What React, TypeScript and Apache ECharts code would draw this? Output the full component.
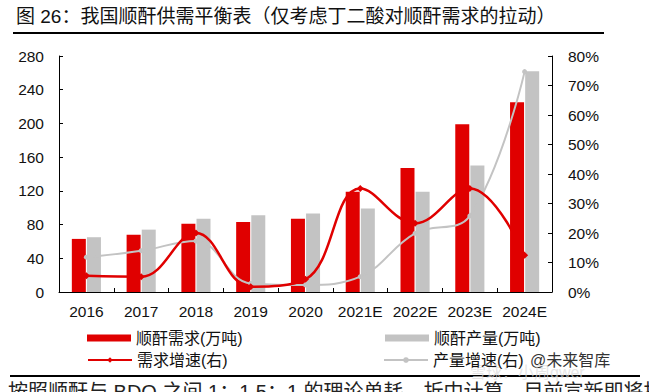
import React, { useEffect, useRef } from "react";
import * as echarts from "echarts";

const categories = ["2016", "2017", "2018", "2019", "2020", "2021E", "2022E", "2023E", "2024E"];
const demand = [63, 68, 81, 83, 87, 119, 147, 199, 225];
const supply = [65, 74, 87, 91, 93, 99, 119, 150, 262];
const demandGrowth = [5.5, 5.2, 20, 1.8, 4.3, 35.1, 23.3, 35.1, 12.5];
const supplyGrowth = [11.8, 14, 17.3, 2.9, 2.4, 5.2, 19.9, 25.8, 74.7];

const titleText = "图 26：我国顺酐供需平衡表（仅考虑丁二酸对顺酐需求的拉动）";
const names = ["顺酐需求(万吨)", "顺酐产量(万吨)", "需求增速(右)", "产量增速(右)"];

const RED = "#E00000";
const GRAY = "#C3C3C3";
const FONT = "'Liberation Sans', Arial, 'Noto Sans CJK SC', sans-serif";

export default function App() {
  const ref = useRef<HTMLDivElement>(null);
  useEffect(() => {
    if (!ref.current) return;
    const chart = echarts.init(ref.current, undefined, { renderer: "svg" });
    const axisLabel = { color: "#111", fontSize: 15.5, fontFamily: FONT };
    const legendBase = {
      padding: 0,
      itemHeight: 7,
      itemWidth: 44,
      textStyle: { color: "#111", fontSize: 16, fontFamily: FONT },
    };
    chart.setOption({
      animation: false,
      textStyle: { fontFamily: FONT },
      grid: { left: 59, right: 97, top: 56, bottom: 100, containLabel: false },
      legend: [
        { ...legendBase, left: 87, top: 330, data: [{ name: names[0], icon: "rect" }] },
        { ...legendBase, left: 385, top: 330, data: [{ name: names[1], icon: "rect" }] },
        { ...legendBase, left: 87, top: 352, data: [names[2]] },
        { ...legendBase, left: 383, top: 352, data: [names[3]] },
      ],
      xAxis: {
        type: "category",
        data: categories,
        boundaryGap: true,
        axisLine: { lineStyle: { color: "#000", width: 1 } },
        axisTick: { show: true, inside: true, length: 4, alignWithLabel: false, lineStyle: { color: "#000" } },
        axisLabel: { ...axisLabel, margin: 12, interval: 0 },
      },
      yAxis: [
        {
          type: "value",
          min: 0,
          max: 280,
          interval: 40,
          splitLine: { show: false },
          axisLine: { show: true, lineStyle: { color: "#000" } },
          axisTick: { show: true, inside: true, length: 4, lineStyle: { color: "#000" } },
          axisLabel: { ...axisLabel, margin: 15 },
        },
        {
          type: "value",
          min: 0,
          max: 80,
          interval: 10,
          position: "right",
          splitLine: { show: false },
          axisLine: { show: true, lineStyle: { color: "#000" } },
          axisTick: { show: true, inside: true, length: 4, lineStyle: { color: "#000" } },
          axisLabel: { ...axisLabel, margin: 16, formatter: "{value}%" },
        },
      ],
      series: [
        {
          name: names[0],
          type: "bar",
          data: demand,
          barWidth: 14,
          barGap: "8%",
          itemStyle: { color: RED },
          z: 2,
        },
        {
          name: names[1],
          type: "bar",
          data: supply,
          barWidth: 14,
          barGap: "8%",
          itemStyle: { color: GRAY },
          z: 2,
        },
        {
          name: names[3],
          type: "line",
          yAxisIndex: 1,
          data: supplyGrowth,
          smooth: 0.4,
          symbol: "circle",
          symbolSize: 5,
          lineStyle: { color: GRAY, width: 2 },
          itemStyle: { color: GRAY },
          z: 3,
        },
        {
          name: names[2],
          type: "line",
          yAxisIndex: 1,
          data: demandGrowth,
          smooth: 0.4,
          symbol: "diamond",
          symbolSize: 7,
          lineStyle: { color: RED, width: 2.5 },
          itemStyle: { color: RED },
          z: 4,
        },
      ],
      graphic: [
        {
          type: "text",
          left: 16,
          top: 7,
          style: { text: titleText, fontSize: 19, fill: "#111", fontFamily: FONT },
        },
        { type: "line", shape: { x1: 13, y1: 33, x2: 604, y2: 33 }, style: { stroke: "#000", lineWidth: 2 } },
        { type: "line", shape: { x1: 10, y1: 376, x2: 640, y2: 376 }, style: { stroke: "#000", lineWidth: 2 } },
        {
          type: "text",
          left: 8,
          top: 382,
          style: {
            text: "按照顺酐与 BDO 之间 1：1.5：1 的理论单耗，折中计算，目前宣新即将投产的",
            fontSize: 20,
            fill: "#222",
            fontFamily: FONT,
          },
        },
        {
          type: "text",
          left: 530,
          top: 352,
          style: { text: "@未来智库", fontSize: 16, fill: "#333", fontFamily: FONT },
        },
        {
          type: "text",
          left: 470,
          top: 364,
          style: { text: "雪球：小周qwer", fontSize: 16, fill: "#dadada", opacity: 0.7, fontFamily: FONT },
        },
      ],
    });
    return () => chart.dispose();
  }, []);
  return (
    <div
      ref={ref}
      style={{ position: "fixed", left: 0, top: 0, width: 649, height: 392, background: "#fff" }}
    />
  );
}
